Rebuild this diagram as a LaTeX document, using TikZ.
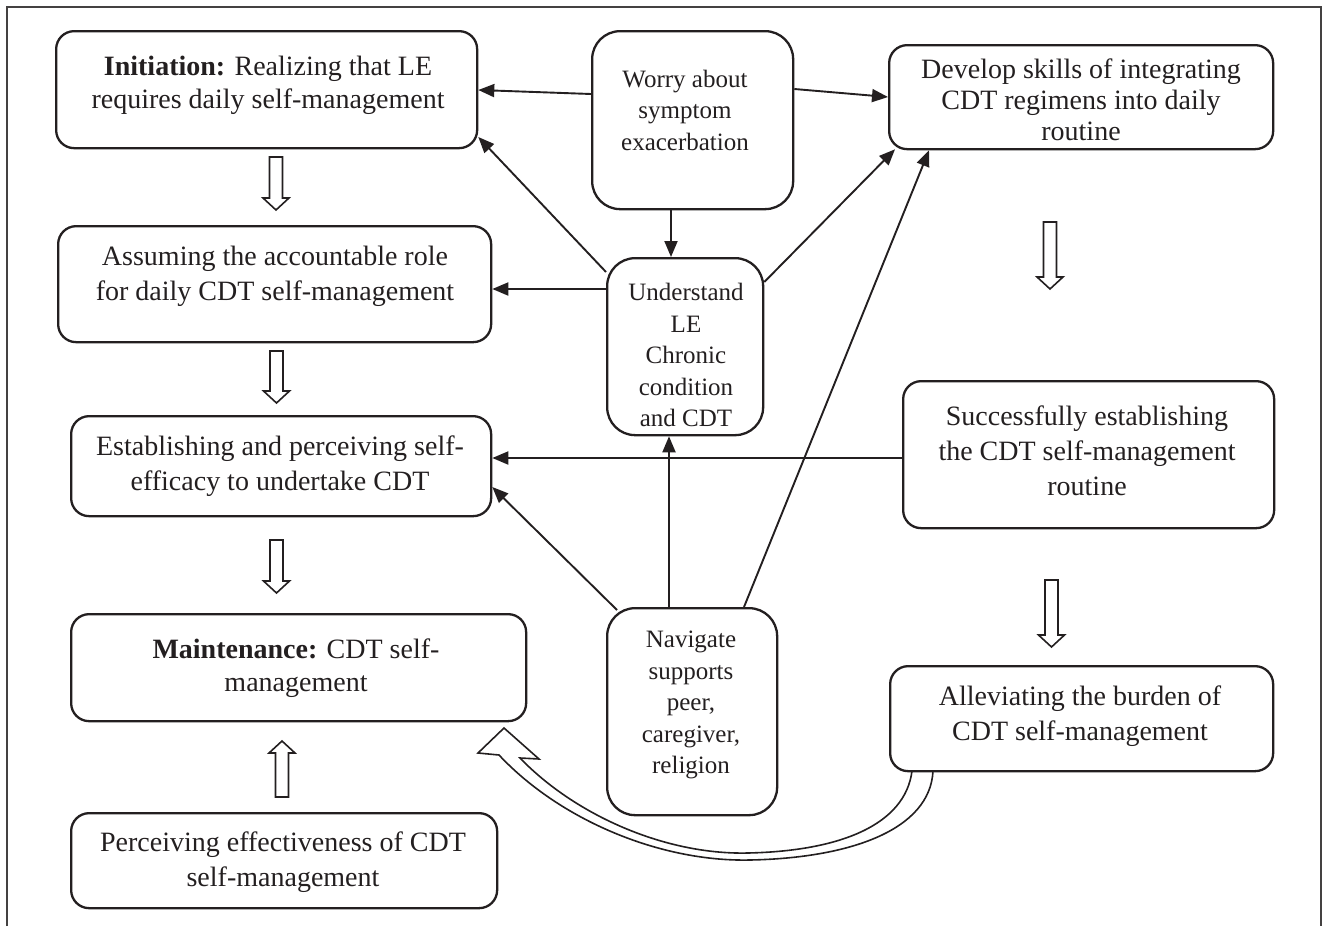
\documentclass[tikz,border=0pt]{standalone}
\usepackage{fontspec}
\setmainfont{Liberation Serif}
\usetikzlibrary{arrows.meta}
\definecolor{ink}{HTML}{231F20}
\newcommand\HollowDown[3]{\draw[hollow] ({#1-6.5},#2) -- ({#1-6.5},{#3-12}) -- ({#1-13},{#3-12}) -- (#1,#3) -- ({#1+13},{#3-12}) -- ({#1+6.5},{#3-12}) -- ({#1+6.5},#2) -- cycle;}
\newcommand\HollowUp[3]{\draw[hollow] ({#1-6.5},#2) -- ({#1-6.5},{#3+12}) -- ({#1-13},{#3+12}) -- (#1,#3) -- ({#1+13},{#3+12}) -- ({#1+6.5},{#3+12}) -- ({#1+6.5},#2) -- cycle;}
\begin{document}
\begin{tikzpicture}[x=1pt,y=-1pt,
  box/.style={draw=ink, line width=2.3pt, rounded corners=18pt, inner sep=0pt, anchor=north west},
  cbox/.style={box, rounded corners=28pt},
  side/.style={text=ink, align=center, font=\fontsize{28}{35}\selectfont, inner sep=0pt},
  mid/.style={text=ink, align=center, font=\fontsize{25}{31.5}\selectfont, inner sep=0pt},
  conn/.style={draw=ink, line width=1.9pt, -{Triangle[length=16pt,width=13pt]}},
  hollow/.style={draw=ink, line width=1.6pt, fill=white, line join=miter},
]
\useasboundingbox (0,0) rectangle (1324,926);
\draw[draw=ink!85, line width=2pt] (7,926) -- (7,7) -- (1321,7) -- (1321,926);

% big curved hollow arrow
\draw[hollow] (499,755) .. controls (560,820) and (660,862) .. (750,860)
  .. controls (850,858) and (930,830) .. (933,771) -- (912,771)
  .. controls (905,825) and (840,851) .. (748,853)
  .. controls (665,855) and (575,815) .. (520,758)
  -- (539,759) -- (504,728) -- (478,753) -- cycle;

% boxes
\node[box, minimum width=421pt, minimum height=117pt] (init) at (55,30) {};
\node[cbox, minimum width=201pt, minimum height=178pt] (worry) at (591,30) {};
\node[box, minimum width=384pt, minimum height=104pt] (develop) at (888,44) {};
\node[box, minimum width=433pt, minimum height=116pt] (assuming) at (57,225) {};
\node[cbox, minimum width=156pt, minimum height=177pt] (understand) at (606,257) {};
\node[box, minimum width=420pt, minimum height=100pt] (establishing) at (70,415) {};
\node[box, minimum width=371pt, minimum height=147pt] (successfully) at (902,380) {};
\node[box, minimum width=455pt, minimum height=107pt] (maintenance) at (70,613) {};
\node[cbox, minimum width=170pt, minimum height=207pt] (navigate) at (606,607) {};
\node[box, minimum width=383pt, minimum height=105pt] (alleviating) at (889,665) {};
\node[box, minimum width=426pt, minimum height=95pt] (perceiving) at (70,812) {};

% texts
\node[side, font=\fontsize{28}{33}\selectfont] (tinit) at (268,85) {\textbf{Initiation:} Realizing that LE\\requires daily self-management};
\node[mid] (tworry) at (685,110) {Worry about\\symptom\\exacerbation};
\node[side, font=\fontsize{28}{31}\selectfont] (tdevelop) at (1081,100) {Develop skills of integrating\\CDT regimens into daily\\routine};
\node[side] (tassuming) at (275,276) {Assuming the accountable role\\for daily CDT self-management};
\node[mid] (tunderstand) at (686,355) {Understand\\LE\\Chronic\\condition\\and CDT};
\node[side] (testablishing) at (280,466) {Establishing and perceiving self-\\efficacy to undertake CDT};
\node[side] (tsuccessfully) at (1087,451) {Successfully establishing\\the CDT self-management\\routine};
\node[side, font=\fontsize{28}{33}\selectfont] (tmaintenance) at (296,668) {\textbf{Maintenance:} CDT self-\\management};
\node[mid] (tnavigate) at (691,705) {Navigate\\supports\\peer,\\caregiver,\\religion};
\node[side] (talleviating) at (1080,716) {Alleviating the burden of\\CDT self-management};
\node[side] (tperceiving) at (283,862) {Perceiving effectiveness of CDT\\self-management};

% connectors
\draw[conn] (worry.west |- 0,94) -- (init.east |- 0,90);
\draw[conn] (worry.east |- 0,89) -- (develop.west |- 0,97);
\draw[conn] (worry.south -| 671,0) -- (understand.north -| 671,0);
\draw[conn] (understand.west |- 0,272) -- (init.east |- 0,137);
\draw[conn] (understand.west |- 0,289) -- (assuming.east |- 0,289);
\draw[conn] (understand.east |- 0,282) -- ([xshift=7pt,yshift=1pt]develop.south west);
\draw[conn] (successfully.west |- 0,458) -- (establishing.east |- 0,458);
\draw[conn] ([xshift=11pt,yshift=-3pt]navigate.north west) -- (establishing.east |- 0,487);
\draw[conn] (navigate.north -| 669,0) -- (understand.south -| 669,0);
\draw[conn] (navigate.north -| 744,0) -- (develop.south -| 929,0);

% hollow process arrows
\HollowDown{276}{157}{210}
\HollowDown{276.5}{351}{403}
\HollowDown{276.5}{540}{593}
\HollowUp{282}{797}{741}
\HollowDown{1050}{222}{289}
\HollowDown{1051.5}{580}{647}
\end{tikzpicture}
\end{document}
